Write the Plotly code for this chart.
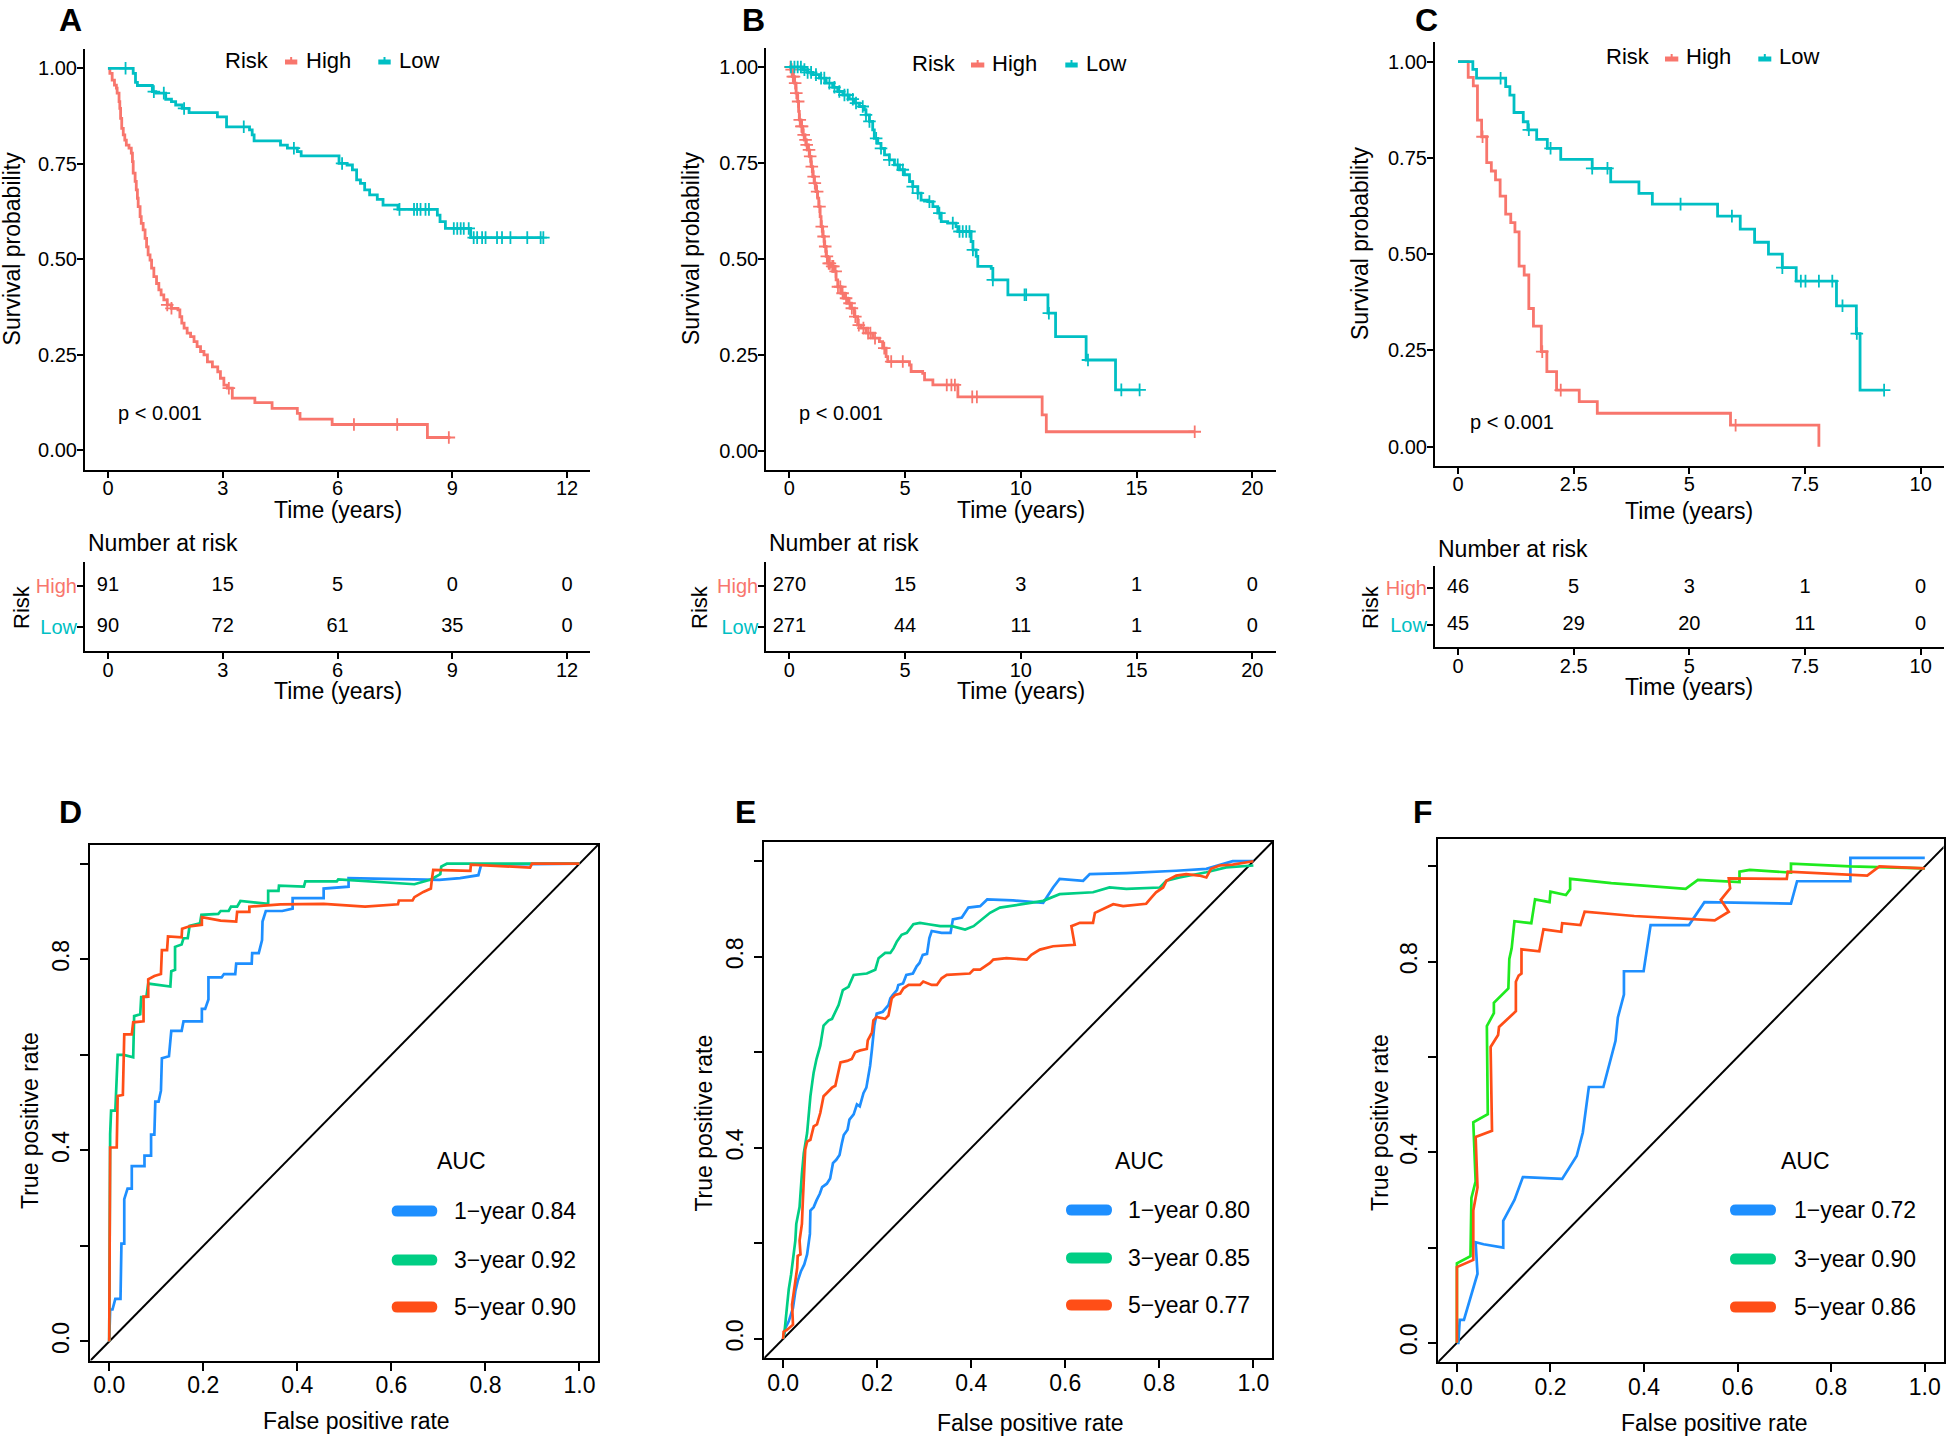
import numpy as np
import plotly.graph_objects as go

W, H = 1946, 1436
FONT = "Liberation Sans, Arial, Helvetica, sans-serif"

KM_HIGH = "#F8766D"
KM_LOW = "#00BFC4"
ROC_BLUE = "#1E8FFF"
ROC_GREEN = "#00CE84"
ROC_LIME = "#1FEA1F"
ROC_RED = "#FF4E17"

# ---------------- Kaplan-Meier curves: (time in years, survival after the step)
a_high_steps = [(0.05, 0.987), (0.11, 0.969), (0.17, 0.956), (0.22, 0.948), (0.24, 0.935),
                (0.29, 0.913), (0.31, 0.895), (0.33, 0.869), (0.36, 0.843), (0.40, 0.826),
                (0.44, 0.812), (0.48, 0.799), (0.55, 0.791), (0.61, 0.778), (0.64, 0.756),
                (0.66, 0.726), (0.71, 0.704), (0.74, 0.682), (0.77, 0.660), (0.79, 0.638),
                (0.84, 0.612), (0.87, 0.594), (0.92, 0.577), (0.97, 0.555), (1.01, 0.533),
                (1.05, 0.512), (1.10, 0.498), (1.14, 0.477), (1.20, 0.455), (1.27, 0.437),
                (1.33, 0.420), (1.39, 0.407), (1.46, 0.394), (1.55, 0.381), (1.66, 0.372),
                (1.83, 0.368), (1.88, 0.350), (1.93, 0.333), (1.99, 0.320), (2.07, 0.307),
                (2.16, 0.298), (2.25, 0.285), (2.33, 0.272), (2.42, 0.259), (2.51, 0.250),
                (2.60, 0.232), (2.73, 0.219), (2.87, 0.206), (2.94, 0.189), (3.03, 0.171),
                (3.12, 0.163), (3.25, 0.137), (3.84, 0.125), (4.29, 0.110), (4.95, 0.097),
                (5.02, 0.082), (5.86, 0.068), (8.35, 0.034)]
a_high_end = 8.95
a_high_cens = [1.55, 1.66, 3.16, 6.43, 7.56, 8.91]

a_low_steps = [(0.66, 0.987), (0.72, 0.963), (0.77, 0.955), (1.16, 0.939), (1.25, 0.935),
               (1.51, 0.919), (1.66, 0.913), (1.77, 0.904), (1.94, 0.895), (2.12, 0.884),
               (2.86, 0.873), (3.10, 0.847), (3.70, 0.839), (3.77, 0.826), (3.82, 0.810),
               (4.51, 0.799), (4.69, 0.791), (4.95, 0.782), (5.05, 0.771), (6.04, 0.751),
               (6.25, 0.747), (6.39, 0.734), (6.50, 0.708), (6.60, 0.699), (6.71, 0.682),
               (6.84, 0.669), (7.04, 0.657), (7.19, 0.642), (7.58, 0.631), (8.61, 0.616),
               (8.68, 0.599), (8.82, 0.581), (9.48, 0.557)]
a_low_end = 11.39
a_low_cens = [0.46, 1.20, 1.46, 1.99, 3.55, 4.86, 6.12, 7.62, 8.0, 8.08, 8.17, 8.30, 8.39,
              9.04, 9.13, 9.22, 9.30, 9.43, 9.56, 9.65, 9.78, 9.87, 10.17, 10.30, 10.52,
              10.96, 11.31, 11.38]

b_high_steps = [(0.07, 0.993), (0.14, 0.975), (0.22, 0.958), (0.29, 0.932), (0.36, 0.910),
                (0.40, 0.884), (0.43, 0.862), (0.50, 0.845), (0.58, 0.823), (0.65, 0.810),
                (0.72, 0.797), (0.79, 0.784), (0.86, 0.767), (0.94, 0.740), (1.01, 0.714),
                (1.08, 0.697), (1.15, 0.675), (1.22, 0.658), (1.27, 0.636), (1.33, 0.610),
                (1.37, 0.584), (1.44, 0.558), (1.51, 0.532), (1.59, 0.506), (1.66, 0.488),
                (1.80, 0.480), (1.95, 0.467), (2.02, 0.445), (2.09, 0.427), (2.23, 0.410),
                (2.38, 0.397), (2.52, 0.384), (2.67, 0.371), (2.81, 0.349), (2.95, 0.327),
                (3.10, 0.319), (3.31, 0.306), (3.60, 0.293), (3.89, 0.284), (4.03, 0.267),
                (4.18, 0.245), (4.25, 0.232), (5.19, 0.223), (5.26, 0.206), (5.76, 0.201),
                (5.84, 0.184), (6.20, 0.171), (7.28, 0.140), (10.92, 0.093), (11.10, 0.049)]
b_high_end = 17.51
b_high_cens = [0.05, 0.10, 0.15, 0.20, 0.25, 0.30, 0.38, 0.45, 0.52, 0.55, 0.62, 0.70, 0.75,
               0.85, 0.90, 0.97, 1.05, 1.10, 1.20, 1.30, 1.40, 1.48, 1.55, 1.62, 1.70, 1.75,
               1.85, 1.90, 2.00, 2.10, 2.20, 2.30, 2.45, 2.60, 2.70, 2.85, 3.00, 3.20, 3.40,
               3.50, 3.70, 4.10, 4.40, 4.90, 6.80, 7.00, 7.15, 7.90, 8.10, 17.51]

b_low_steps = [(0.58, 0.993), (0.79, 0.986), (1.01, 0.980), (1.30, 0.971), (1.59, 0.958),
               (1.87, 0.947), (2.09, 0.936), (2.31, 0.927), (2.59, 0.916), (2.81, 0.906),
               (3.03, 0.897), (3.24, 0.888), (3.31, 0.875), (3.46, 0.858), (3.60, 0.836),
               (3.67, 0.814), (3.82, 0.801), (3.96, 0.788), (4.11, 0.771), (4.32, 0.758),
               (4.54, 0.745), (4.76, 0.732), (4.97, 0.719), (5.19, 0.701), (5.33, 0.688),
               (5.55, 0.671), (5.69, 0.653), (5.98, 0.649), (6.20, 0.636), (6.41, 0.619),
               (6.56, 0.597), (6.84, 0.593), (7.20, 0.584), (7.28, 0.571), (7.85, 0.545),
               (7.93, 0.523), (8.07, 0.506), (8.14, 0.480), (8.72, 0.475), (8.79, 0.445),
               (9.44, 0.406), (11.17, 0.358), (11.50, 0.297), (12.82, 0.236), (14.09, 0.158)]
b_low_end = 15.13
b_low_cens = [0.07, 0.22, 0.36, 0.50, 0.65, 0.79, 0.94, 1.15, 1.37, 1.51, 1.73, 1.95, 2.16,
              2.38, 2.52, 2.74, 2.88, 3.17, 3.31, 3.46, 3.75, 3.96, 4.32, 4.68, 4.90, 5.33,
              5.55, 6.05, 6.48, 7.06, 7.35, 7.49, 7.64, 7.78, 7.93, 8.79, 10.16, 10.23,
              11.21, 12.90, 14.34, 15.13]

c_high_steps = [(0.22, 0.959), (0.33, 0.937), (0.42, 0.848), (0.51, 0.805), (0.62, 0.738),
                (0.72, 0.716), (0.81, 0.693), (0.91, 0.651), (1.03, 0.604), (1.14, 0.582),
                (1.23, 0.558), (1.32, 0.469), (1.43, 0.446), (1.53, 0.359), (1.63, 0.313),
                (1.80, 0.247), (1.92, 0.195), (2.13, 0.147), (2.62, 0.117), (3.01, 0.087),
                (5.89, 0.056), (7.80, 0.0)]
c_high_end = 7.80
c_high_cens = [0.53, 1.82, 2.22, 6.0]

c_low_steps = [(0.32, 0.980), (0.40, 0.957), (1.03, 0.935), (1.12, 0.913), (1.21, 0.868),
               (1.41, 0.844), (1.51, 0.823), (1.70, 0.798), (1.93, 0.775), (2.22, 0.746),
               (2.90, 0.723), (3.30, 0.688), (3.91, 0.658), (4.20, 0.630), (5.61, 0.599),
               (6.10, 0.565), (6.41, 0.531), (6.71, 0.500), (7.01, 0.465), (7.31, 0.430),
               (8.18, 0.366), (8.61, 0.294), (8.69, 0.147)]
c_low_end = 9.21
c_low_cens = [0.92, 1.53, 2.0, 2.90, 3.23, 4.81, 5.92, 7.01, 7.41, 7.51, 7.80, 8.09, 8.31,
              8.62, 9.21]

# ---------------- number at risk tables
a_times = [0, 3, 6, 9, 12]
a_risk_high = [91, 15, 5, 0, 0]
a_risk_low = [90, 72, 61, 35, 0]
b_times = [0, 5, 10, 15, 20]
b_risk_high = [270, 15, 3, 1, 0]
b_risk_low = [271, 44, 11, 1, 0]
c_times = [0, 2.5, 5, 7.5, 10]
c_risk_high = [46, 5, 3, 1, 0]
c_risk_low = [45, 29, 20, 11, 0]

# ---------------- ROC curves: (false positive rate, true positive rate)
d_roc_1y = [(0, 0), (0.002, 0.067), (0.007, 0.067), (0.013, 0.089), (0.024, 0.089), (0.026, 0.205),
            (0.032, 0.205), (0.032, 0.298), (0.039, 0.320), (0.048, 0.320), (0.048, 0.367),
            (0.075, 0.367), (0.075, 0.389), (0.089, 0.389), (0.089, 0.433), (0.096, 0.433),
            (0.098, 0.502), (0.105, 0.502), (0.110, 0.525), (0.112, 0.593), (0.127, 0.597),
            (0.132, 0.650), (0.154, 0.650), (0.158, 0.670), (0.197, 0.670), (0.197, 0.696),
            (0.204, 0.696), (0.211, 0.716), (0.211, 0.762), (0.239, 0.762), (0.244, 0.769),
            (0.268, 0.769), (0.270, 0.791), (0.303, 0.791), (0.304, 0.813), (0.318, 0.813),
            (0.325, 0.840), (0.326, 0.879), (0.333, 0.901), (0.368, 0.901), (0.390, 0.906),
            (0.390, 0.928), (0.456, 0.928), (0.456, 0.948), (0.509, 0.952), (0.509, 0.970),
            (0.702, 0.966), (0.746, 0.970), (0.785, 0.976), (0.791, 0.998), (1.0, 1.0)]
d_roc_3y = [(0, 0), (0.002, 0.434), (0.004, 0.483), (0.013, 0.483), (0.018, 0.600), (0.031, 0.600),
            (0.051, 0.595), (0.053, 0.681), (0.066, 0.685), (0.068, 0.721), (0.079, 0.721),
            (0.083, 0.749), (0.130, 0.743), (0.132, 0.775), (0.140, 0.778), (0.140, 0.826),
            (0.154, 0.831), (0.158, 0.844), (0.167, 0.844), (0.171, 0.870), (0.193, 0.875),
            (0.196, 0.893), (0.232, 0.895), (0.237, 0.901), (0.254, 0.901), (0.259, 0.910),
            (0.272, 0.910), (0.279, 0.922), (0.338, 0.916), (0.338, 0.943), (0.360, 0.943),
            (0.361, 0.954), (0.414, 0.952), (0.417, 0.963), (0.484, 0.963), (0.487, 0.967),
            (0.649, 0.957), (0.684, 0.967), (0.704, 0.978), (0.706, 0.994), (0.718, 1.0), (1.0, 1.0)]
d_roc_5y = [(0, 0), (0.002, 0.406), (0.016, 0.406), (0.018, 0.514), (0.029, 0.516), (0.032, 0.643),
            (0.048, 0.643), (0.051, 0.668), (0.073, 0.670), (0.073, 0.722), (0.083, 0.722),
            (0.083, 0.758), (0.096, 0.765), (0.110, 0.769), (0.112, 0.819), (0.123, 0.819),
            (0.125, 0.848), (0.154, 0.846), (0.155, 0.864), (0.171, 0.869), (0.197, 0.872),
            (0.197, 0.888), (0.237, 0.881), (0.270, 0.879), (0.272, 0.899), (0.298, 0.899),
            (0.298, 0.910), (0.364, 0.915), (0.456, 0.916), (0.544, 0.910), (0.614, 0.915),
            (0.616, 0.923), (0.645, 0.923), (0.649, 0.930), (0.668, 0.941), (0.684, 0.948),
            (0.686, 0.966), (0.689, 0.987), (0.768, 0.985), (0.769, 0.998), (0.895, 0.992),
            (0.899, 1.0), (1.0, 1.0)]

e_roc_1y = [(0, 0), (0.005, 0.023), (0.012, 0.037), (0.021, 0.065), (0.026, 0.100), (0.031, 0.121),
            (0.038, 0.142), (0.045, 0.156), (0.051, 0.177), (0.057, 0.220), (0.058, 0.269),
            (0.065, 0.276), (0.071, 0.290), (0.078, 0.304), (0.083, 0.318), (0.093, 0.325),
            (0.100, 0.336), (0.106, 0.368), (0.113, 0.375), (0.120, 0.385), (0.125, 0.410),
            (0.129, 0.427), (0.137, 0.438), (0.141, 0.459), (0.150, 0.470), (0.157, 0.491),
            (0.163, 0.487), (0.171, 0.515), (0.177, 0.526), (0.182, 0.551), (0.185, 0.572),
            (0.189, 0.607), (0.194, 0.656), (0.199, 0.681), (0.212, 0.685), (0.224, 0.699),
            (0.228, 0.713), (0.233, 0.720), (0.242, 0.730), (0.245, 0.741), (0.255, 0.744),
            (0.262, 0.762), (0.276, 0.765), (0.284, 0.780), (0.290, 0.787), (0.297, 0.804),
            (0.306, 0.806), (0.311, 0.839), (0.316, 0.854), (0.337, 0.850), (0.356, 0.850),
            (0.361, 0.878), (0.380, 0.882), (0.394, 0.903), (0.419, 0.906), (0.434, 0.920),
            (0.489, 0.918), (0.553, 0.913), (0.574, 0.945), (0.588, 0.963), (0.638, 0.959),
            (0.652, 0.973), (0.730, 0.975), (0.836, 0.980), (0.900, 0.984), (0.956, 1.0), (1.0, 1.0)]
e_roc_3y = [(0, 0), (0.003, 0.015), (0.008, 0.065), (0.012, 0.104), (0.017, 0.135), (0.021, 0.170),
            (0.026, 0.206), (0.028, 0.241), (0.035, 0.276), (0.040, 0.346), (0.044, 0.389),
            (0.051, 0.431), (0.054, 0.473), (0.058, 0.508), (0.062, 0.537), (0.065, 0.558),
            (0.071, 0.586), (0.079, 0.614), (0.086, 0.656), (0.097, 0.667), (0.104, 0.670),
            (0.118, 0.699), (0.127, 0.730), (0.139, 0.737), (0.150, 0.762), (0.178, 0.765),
            (0.196, 0.773), (0.203, 0.797), (0.217, 0.808), (0.228, 0.808), (0.235, 0.818),
            (0.242, 0.832), (0.252, 0.846), (0.263, 0.850), (0.277, 0.868), (0.291, 0.871),
            (0.309, 0.868), (0.334, 0.864), (0.359, 0.864), (0.387, 0.857), (0.405, 0.864),
            (0.422, 0.878), (0.440, 0.892), (0.461, 0.903), (0.511, 0.910), (0.553, 0.917),
            (0.588, 0.931), (0.659, 0.935), (0.694, 0.945), (0.730, 0.942), (0.801, 0.945),
            (0.815, 0.959), (0.843, 0.966), (0.900, 0.977), (0.942, 0.987), (1.0, 0.991)]
e_roc_5y = [(0, 0), (0.001, 0.015), (0.008, 0.019), (0.021, 0.030), (0.019, 0.072), (0.023, 0.100),
            (0.026, 0.128), (0.030, 0.149), (0.031, 0.174), (0.037, 0.177), (0.035, 0.206),
            (0.040, 0.241), (0.042, 0.290), (0.045, 0.346), (0.047, 0.396), (0.051, 0.413),
            (0.058, 0.417), (0.065, 0.445), (0.072, 0.449), (0.079, 0.473), (0.086, 0.508),
            (0.093, 0.515), (0.104, 0.526), (0.111, 0.530), (0.118, 0.558), (0.122, 0.579),
            (0.136, 0.582), (0.146, 0.586), (0.153, 0.600), (0.164, 0.604), (0.178, 0.607),
            (0.180, 0.625), (0.189, 0.642), (0.192, 0.667), (0.199, 0.674), (0.217, 0.670),
            (0.224, 0.677), (0.228, 0.699), (0.231, 0.713), (0.238, 0.720), (0.249, 0.723),
            (0.256, 0.734), (0.267, 0.741), (0.291, 0.741), (0.298, 0.748), (0.316, 0.741),
            (0.327, 0.741), (0.337, 0.755), (0.348, 0.762), (0.397, 0.765), (0.405, 0.773),
            (0.419, 0.773), (0.440, 0.787), (0.447, 0.794), (0.475, 0.797), (0.518, 0.794),
            (0.528, 0.804), (0.546, 0.815), (0.574, 0.822), (0.620, 0.825), (0.617, 0.839),
            (0.613, 0.864), (0.631, 0.871), (0.659, 0.871), (0.663, 0.892), (0.687, 0.903),
            (0.702, 0.910), (0.723, 0.906), (0.772, 0.911), (0.783, 0.924), (0.793, 0.935),
            (0.808, 0.945), (0.815, 0.959), (0.836, 0.970), (0.857, 0.973), (0.885, 0.970),
            (0.900, 0.966), (0.910, 0.984), (0.928, 0.991), (0.956, 0.993), (1.0, 1.0)]

f_roc_1y = [(0, 0), (0.003, 0.0), (0.006, 0.048), (0.015, 0.048), (0.044, 0.145), (0.040, 0.211),
            (0.057, 0.207), (0.099, 0.200), (0.099, 0.256), (0.123, 0.300), (0.141, 0.348),
            (0.225, 0.344), (0.256, 0.392), (0.269, 0.441), (0.282, 0.537), (0.313, 0.537),
            (0.339, 0.634), (0.344, 0.683), (0.357, 0.731), (0.357, 0.780), (0.399, 0.780),
            (0.414, 0.877), (0.496, 0.877), (0.529, 0.925), (0.714, 0.922), (0.727, 0.969),
            (0.841, 0.969), (0.841, 1.018), (1.0, 1.018)]
f_roc_3y = [(0, 0), (0, 0.167), (0.029, 0.182), (0.031, 0.304), (0.040, 0.339), (0.035, 0.463),
            (0.066, 0.480), (0.064, 0.665), (0.079, 0.692), (0.079, 0.714), (0.110, 0.744),
            (0.112, 0.806), (0.117, 0.828), (0.123, 0.885), (0.159, 0.881), (0.167, 0.931),
            (0.198, 0.925), (0.200, 0.947), (0.233, 0.940), (0.242, 0.952), (0.242, 0.974),
            (0.330, 0.965), (0.489, 0.953), (0.515, 0.972), (0.604, 0.967), (0.604, 0.989),
            (0.626, 0.993), (0.714, 0.987), (0.714, 1.006), (0.841, 1.0), (1.0, 0.996)]
f_roc_5y = [(0, 0), (0, 0.159), (0.035, 0.174), (0.035, 0.278), (0.044, 0.326), (0.040, 0.432),
            (0.075, 0.445), (0.072, 0.621), (0.088, 0.646), (0.090, 0.663), (0.126, 0.696),
            (0.126, 0.758), (0.132, 0.771), (0.138, 0.775), (0.138, 0.826), (0.176, 0.822),
            (0.185, 0.868), (0.223, 0.863), (0.225, 0.881), (0.264, 0.877), (0.273, 0.905),
            (0.379, 0.896), (0.551, 0.887), (0.581, 0.905), (0.564, 0.930), (0.584, 0.954),
            (0.581, 0.975), (0.705, 0.974), (0.707, 0.989), (0.877, 0.981), (0.903, 1.0),
            (1.0, 0.996)]

auc_labels = ["1\u2212year", "3\u2212year", "5\u2212year"]
d_auc = [0.84, 0.92, 0.90]
e_auc = [0.80, 0.85, 0.77]
f_auc = [0.72, 0.90, 0.86]


def px(x):
    return x / W


def py(y):
    return 1 - y / H


def km_xy(steps, end):
    t = [0.0] + [p[0] for p in steps] + [end]
    s = [1.0] + [p[1] for p in steps] + [steps[-1][1]]
    return t, s


def km_at(steps, times):
    ts = np.array([0.0] + [p[0] for p in steps])
    ss = np.array([1.0] + [p[1] for p in steps])
    idx = np.searchsorted(ts, np.array(times), side="right") - 1
    return ss[idx]


fig = go.Figure()
annotations = []
shapes = []
layout_axes = {}


def txt(x, y, s, size, xanchor="center", angle=0, color="black", xref="paper", yref="paper",
        yanchor="middle"):
    if xref == "paper":
        x = px(x)
    if yref == "paper":
        y = py(y)
    annotations.append(dict(x=x, y=y, xref=xref, yref=yref, text=s, showarrow=False,
                            xanchor=xanchor, yanchor=yanchor, textangle=angle,
                            font=dict(family=FONT, size=size, color=color)))


def axis_name(i, kind):
    return kind + ("" if i == 1 else str(i))


def km_panel(i, steps_h, end_h, cens_h, steps_l, end_l, cens_l, times, risk_h, risk_l,
             xdom, ydom, tdom, xmax, pval_xy, legend, ticktxt):
    xa, ya = axis_name(i, "x"), axis_name(i, "y")
    xt, yt = axis_name(i + 1, "x"), axis_name(i + 1, "y")
    for steps, end, cens, col in [(steps_h, end_h, cens_h, KM_HIGH), (steps_l, end_l, cens_l, KM_LOW)]:
        t, s = km_xy(steps, end)
        fig.add_trace(go.Scatter(x=t, y=s, mode="lines", line=dict(color=col, width=2.8, shape="hv"),
                                 xaxis=xa, yaxis=ya, hoverinfo="skip"))
        fig.add_trace(go.Scatter(x=cens, y=km_at(steps, cens), mode="markers",
                                 marker=dict(symbol="cross-thin", size=9, color=col,
                                             line=dict(color=col, width=1.8)),
                                 xaxis=xa, yaxis=ya, hoverinfo="skip"))
    # risk table
    for yv, vals in [(2, risk_h), (1, risk_l)]:
        fig.add_trace(go.Scatter(x=times, y=[yv] * len(times), mode="text",
                                 text=[str(v) for v in vals],
                                 textfont=dict(family=FONT, size=20, color="black"),
                                 xaxis=xt, yaxis=yt, hoverinfo="skip"))
    rng = [-0.05 * xmax, 1.05 * xmax]
    common = dict(showline=True, linecolor="black", linewidth=2, ticks="outside", ticklen=6,
                  tickwidth=1.6, tickcolor="black", showgrid=False, zeroline=False,
                  tickfont=dict(family=FONT, size=20, color="black"))
    layout_axes[axis_name(i, "xaxis")] = dict(domain=[px(xdom[0]), px(xdom[1])], range=rng,
                                              anchor=ya, tickvals=times, ticktext=ticktxt,
                                              ticklabelstandoff=-7, **common)
    layout_axes[axis_name(i, "yaxis")] = dict(domain=[py(ydom[1]), py(ydom[0])], range=[-0.05, 1.05],
                                              anchor=xa, tickvals=[0, 0.25, 0.5, 0.75, 1.0],
                                              ticktext=["0.00", "0.25", "0.50", "0.75", "1.00"],
                                              ticklabelstandoff=-4, **common)
    layout_axes[axis_name(i + 1, "xaxis")] = dict(domain=[px(xdom[0]), px(xdom[1])], range=rng,
                                                  anchor=yt, tickvals=times, ticktext=ticktxt,
                                                  ticklabelstandoff=-6, **common)
    layout_axes[axis_name(i + 1, "yaxis")] = dict(
        domain=[py(tdom[1]), py(tdom[0])], range=[0.4, 2.6], anchor=xt, tickvals=[1, 2],
        ticktext=["<span style='color:%s'>Low</span>" % KM_LOW,
                  "<span style='color:%s'>High</span>" % KM_HIGH],
        ticklabelstandoff=-4, **common)
    # texts
    txt(pval_xy[0], pval_xy[1], "p < 0.001", 20, xanchor="left", xref=xa, yref=ya)
    lx, ly = legend
    txt(lx[0], ly, "Risk", 22, xanchor="left")
    txt(lx[3], ly, "High", 22, xanchor="left")
    txt(lx[6], ly, "Low", 22, xanchor="left")
    for k0, k1, col in [(lx[1], lx[2], KM_HIGH), (lx[4], lx[5], KM_LOW)]:
        shapes.append(dict(type="line", xref="paper", yref="paper", x0=px(k0), x1=px(k1),
                           y0=py(ly + 2), y1=py(ly + 2), line=dict(color=col, width=5)))
        shapes.append(dict(type="line", xref="paper", yref="paper", x0=px((k0 + k1) / 2),
                           x1=px((k0 + k1) / 2), y0=py(ly - 3), y1=py(ly + 4),
                           line=dict(color=col, width=2)))


# --- panel A, B, C (Kaplan-Meier + risk table)
km_panel(1, a_high_steps, a_high_end, a_high_cens, a_low_steps, a_low_end, a_low_cens,
         a_times, a_risk_high, a_risk_low, (85, 590), (49.2, 469.6), (562, 651), 12,
         (0.22, 0.097), ((223.3, 285, 297.3, 304, 378.3, 390.7, 397.3), 60),
         ["0", "3", "6", "9", "12"])
km_panel(3, b_high_steps, b_high_end, b_high_cens, b_low_steps, b_low_end, b_low_cens,
         b_times, b_risk_high, b_risk_low, (766.2, 1275.5), (47.8, 469.7), (562, 651), 20,
         (0.32, 0.097), ((910, 971, 984.3, 990, 1065.3, 1077.7, 1084.3), 63),
         ["0", "5", "10", "15", "20"])
km_panel(5, c_high_steps, c_high_end, c_high_cens, c_low_steps, c_low_end, c_low_cens,
         c_times, c_risk_high, c_risk_low, (1434.9, 1943.8), (42.4, 466.0), (566, 647), 10,
         (0.22, 0.065), ((1604, 1665, 1678.3, 1684, 1758.3, 1771.3, 1777.3), 57),
         ["0", "2.5", "5", "7.5", "10"])

for cx, yt_main, yt_tbl, xsp, ysp, xn, yn, xr in [
        (337.5, 510, 691, 12.4, 248, 86, 543.5, 21),
        (1020.9, 510, 691, 691, 248, 767, 543.5, 699),
        (1689.4, 511, 687, 1360, 243, 1436, 548.5, 1370)]:
    txt(cx, yt_main, "Time (years)", 23)
    txt(cx, yt_tbl, "Time (years)", 23)
    txt(xsp, ysp, "Survival probability", 23, angle=-90)
    txt(xn, yn, "Number at risk", 23, xanchor="left")
    txt(xr, 607, "Risk", 22, angle=-90)


# --- panel D, E, F (time dependent ROC)
def roc_panel(i, curves, colors, aucs, xdom, ydom, yr, title_pos, legend):
    xa, ya = axis_name(i, "x"), axis_name(i, "y")
    fig.add_trace(go.Scatter(x=[-0.2, 1.2], y=[-0.2, 1.2], mode="lines",
                             line=dict(color="black", width=2), xaxis=xa, yaxis=ya, hoverinfo="skip"))
    for curve, col in zip(curves, colors):
        fig.add_trace(go.Scatter(x=[p[0] for p in curve], y=[p[1] for p in curve], mode="lines",
                                 line=dict(color=col, width=2.7), xaxis=xa, yaxis=ya,
                                 hoverinfo="skip"))
    common = dict(showline=True, mirror=True, linecolor="black", linewidth=2.2, ticks="outside",
                  ticklen=8, tickwidth=1.6, tickcolor="black", showgrid=False, zeroline=False,
                  tickfont=dict(family=FONT, size=23, color="black"))
    layout_axes[axis_name(i, "xaxis")] = dict(
        domain=[px(xdom[0]), px(xdom[1])], range=[-0.04, 1.04], anchor=ya,
        tickvals=[0, 0.2, 0.4, 0.6, 0.8, 1.0], ticktext=["0.0", "0.2", "0.4", "0.6", "0.8", "1.0"],
        ticklabelstandoff=-5, **common)
    layout_axes[axis_name(i, "yaxis")] = dict(
        domain=[py(ydom[1]), py(ydom[0])], range=yr, anchor=xa, tickangle=-90,
        tickvals=[0, 0.2, 0.4, 0.6, 0.8, 1.0], ticktext=["0.0", "", "0.4", "", "0.8", ""],
        ticklabelstandoff=2, **common)
    (tx, ty), (fx, fy) = title_pos
    txt(tx, ty, "True positive rate", 23, angle=-90)
    txt(fx, fy, "False positive rate", 23)
    (ax, ay), k0, k1, tl, ys = legend
    txt(ax, ay, "AUC", 23)
    r = 5.5
    for lab, auc, col, yk in zip(auc_labels, aucs, [ROC_BLUE, ROC_GREEN, ROC_RED], ys):
        txt(tl, yk, "%s %.2f" % (lab, auc), 23, xanchor="left")
        path = ("M {a},{t} L {b},{t} Q {c},{t} {c},{m} Q {c},{u} {b},{u} L {a},{u} "
                "Q {d},{u} {d},{m} Q {d},{t} {a},{t} Z").format(
            a=px(k0 + r), b=px(k1 - r), c=px(k1), d=px(k0), t=py(yk - r), m=py(yk), u=py(yk + r))
        shapes.append(dict(type="path", xref="paper", yref="paper", path=path,
                           fillcolor=col, line=dict(width=0)))


roc_panel(7, [d_roc_1y, d_roc_3y, d_roc_5y], [ROC_BLUE, ROC_GREEN, ROC_RED], d_auc,
          (90.4, 598.3), (844.6, 1360.6), [-0.04, 1.04], ((30, 1121), (356.6, 1421)),
          ((461.6, 1161), 391.7, 437.3, 451.7, (1211, 1260, 1307)))
roc_panel(8, [e_roc_1y, e_roc_3y, e_roc_5y], [ROC_BLUE, ROC_GREEN, ROC_RED], e_auc,
          (764.3, 1272.2), (842.1, 1358.1), [-0.04, 1.04], ((703.6, 1123), (1030, 1423)),
          ((1139, 1161), 1066, 1112, 1126, (1210, 1258, 1305)))
roc_panel(9, [f_roc_1y, f_roc_3y, f_roc_5y], [ROC_BLUE, ROC_LIME, ROC_RED], f_auc,
          (1438.2, 1943.5), (838.5, 1362.2), [-0.0407, 1.0587], ((1380, 1123), (1714, 1423)),
          ((1805, 1161), 1730, 1776, 1792, (1210, 1259, 1307)))

# panel letters
for lab, x, y in [("A", 70.7, 0), ("B", 753.3, 0), ("C", 1426, 0)]:
    txt(x, y, "<b>%s</b>" % lab, 32, yanchor="top")
for lab, x, y in [("D", 70.7, 811.6), ("E", 745.8, 811.6), ("F", 1423.4, 811.6)]:
    txt(x, y, "<b>%s</b>" % lab, 32)

fig.update_layout(width=W, height=H, margin=dict(l=0, r=0, t=0, b=0),
                  paper_bgcolor="white", plot_bgcolor="white", showlegend=False,
                  font=dict(family=FONT, color="black"),
                  annotations=annotations, shapes=shapes, **layout_axes)

fig.write_html("out.html", config={"displayModeBar": False},
               post_script="document.body.style.margin='0';document.body.style.overflow='hidden';")
